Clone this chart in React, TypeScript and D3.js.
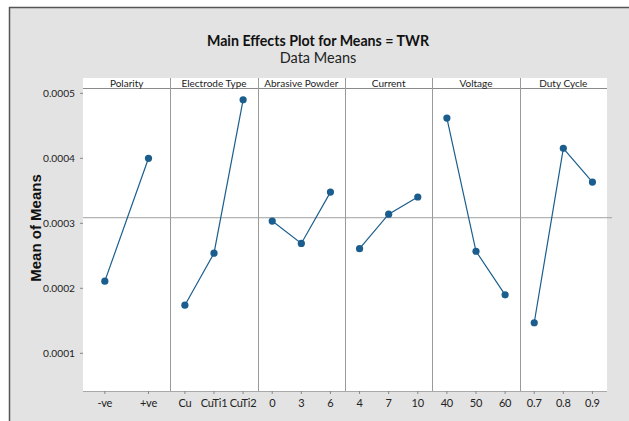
import React from "react";
import * as d3 from "d3";

const factorNames = ["Polarity", "Electrode Type", "Abrasive Powder", "Current", "Voltage", "Duty Cycle"];
const polarityLevels = ["-ve", "+ve"];
const polarityMeans = [0.000211, 0.0004];
const electrodeLevels = ["Cu", "CuTi1", "CuTi2"];
const electrodeMeans = [0.000174, 0.000254, 0.00049];
const abrasiveLevels = ["0", "3", "6"];
const abrasiveMeans = [0.0003035, 0.000269, 0.000348];
const currentLevels = ["4", "7", "10"];
const currentMeans = [0.000261, 0.000314, 0.0003405];
const voltageLevels = ["40", "50", "60"];
const voltageMeans = [0.000462, 0.000257, 0.00019];
const dutyLevels = ["0.7", "0.8", "0.9"];
const dutyMeans = [0.000147, 0.0004154, 0.0003635];
const grandMean = 0.0003086;
const yTicks = [0.0001, 0.0002, 0.0003, 0.0004, 0.0005];
const yDomain = [0.000042, 0.0005082];

const factorLevels = [polarityLevels, electrodeLevels, abrasiveLevels, currentLevels, voltageLevels, dutyLevels];
const factorMeans = [polarityMeans, electrodeMeans, abrasiveMeans, currentMeans, voltageMeans, dutyMeans];

const W = 629, H = 421;
const left = 83, right = 607, top = 88, bottom = 391, stripTop = 78;
const blue = "#1b5e8e";
const font = "Lato, 'Open Sans', sans-serif";

export default function App() {
  const y = d3.scaleLinear().domain(yDomain).range([bottom, top]);
  const panel = d3.scaleBand<number>().domain(d3.range(6)).range([left, right]).paddingInner(0).paddingOuter(0);
  const pw = panel.bandwidth();
  const line = d3.line<[number, number]>().x(d => d[0]).y(d => d[1]);

  return (
    <svg width={W} height={H} style={{ position: "absolute", left: 0, top: 0 }} fontFamily={font}>
      <rect x={0} y={0} width={W} height={H} fill="#ffffff" />
      <rect x={9} y={7} width={W - 9} height={H - 7} fill="#e3e3e3" />
      <line x1={9} x2={W} y1={7.5} y2={7.5} stroke="#555" strokeWidth={1.5} />
      <line x1={9.5} x2={9.5} y1={7} y2={H} stroke="#555" strokeWidth={1.5} />
      <text x={318} y={45.5} textAnchor="middle" fontSize={14.2} fontWeight="bold" fill="#111">Main Effects Plot for Means = TWR</text>
      <text x={318} y={62.5} textAnchor="middle" fontSize={14.5} fill="#222">Data Means</text>
      <text transform={`translate(41,228) rotate(-90)`} textAnchor="middle" fontSize={15} fontWeight="bold" fill="#111" fontFamily="'Liberation Sans', Arial, sans-serif">Mean of Means</text>

      <rect x={left} y={stripTop} width={right - left} height={bottom - stripTop} fill="#ffffff" />
      <line x1={left} x2={right} y1={top + 0.5} y2={top + 0.5} stroke="#8a8a8a" strokeWidth={1} />
      <line x1={left} x2={right} y1={bottom + 0.5} y2={bottom + 0.5} stroke="#a8a8a8" strokeWidth={1} />
      <line x1={left} x2={612} y1={y(grandMean)} y2={y(grandMean)} stroke="#a0a0a0" strokeWidth={1} />

      {yTicks.map(t => (
        <g key={t}>
          <line x1={left - 3} x2={left} y1={y(t)} y2={y(t)} stroke="#888" />
          <text x={left - 8} y={y(t)} dy="0.35em" textAnchor="end" fontSize={10.2} fill="#222">{t.toFixed(4)}</text>
        </g>
      ))}

      {factorNames.map((name, i) => {
        const x0 = panel(i)!;
        const xs = d3.scalePoint<string>().domain(factorLevels[i]).range([x0, x0 + pw]).padding(0.5);
        const pts: [number, number][] = factorLevels[i].map((lv, j) => [xs(lv)!, y(factorMeans[i][j])]);
        return (
          <g key={name}>
            {i > 0 && <line x1={Math.round(x0) + 0.5} x2={Math.round(x0) + 0.5} y1={stripTop} y2={bottom} stroke="#9a9a9a" strokeWidth={1} />}
            <text x={x0 + pw / 2} y={83.5} dy="0.35em" textAnchor="middle" fontSize={10} fill="#222">{name}</text>
            {factorLevels[i].map(lv => (
              <g key={lv}>
                <line x1={xs(lv)!} x2={xs(lv)!} y1={bottom} y2={bottom + 3} stroke="#888" />
                <text x={xs(lv)!} y={403} dy="0.35em" textAnchor="middle" fontSize={11} letterSpacing={-0.2} fill="#222">{lv}</text>
              </g>
            ))}
            <path d={line(pts)!} fill="none" stroke={blue} strokeWidth={1.2} />
            {pts.map((p, j) => <circle key={j} cx={p[0]} cy={p[1]} r={3.6} fill={blue} />)}
          </g>
        );
      })}
    </svg>
  );
}
